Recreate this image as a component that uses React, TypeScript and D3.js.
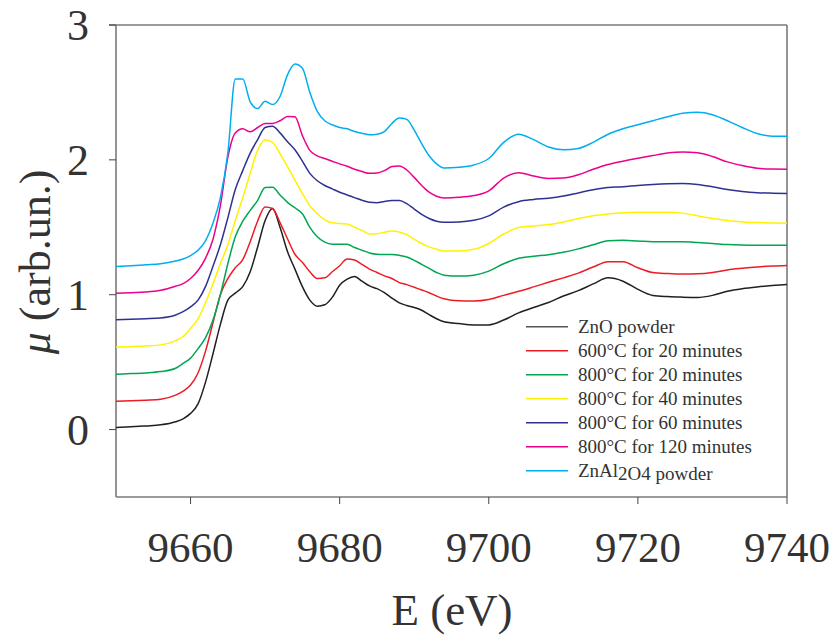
import React from "react";
import * as d3 from "d3";

const energy = [
  9650, 9652, 9654, 9656, 9658, 9659, 9660, 9661, 9662, 9663, 9664, 9665, 9666, 9667, 9668, 9669,
  9670, 9671, 9672, 9673, 9674, 9675, 9676, 9677, 9678, 9679, 9680, 9681, 9682, 9683, 9684, 9685,
  9686, 9687, 9688, 9689, 9690, 9691, 9692, 9693, 9694, 9696, 9698, 9700, 9702, 9704, 9706, 9708,
  9710, 9712, 9714, 9716, 9718, 9720, 9722, 9724, 9726, 9728, 9730, 9732, 9734, 9736, 9738, 9740,
];

const znoPowder = [
  0.015, 0.02, 0.027, 0.035, 0.058, 0.08, 0.12, 0.19, 0.35, 0.56, 0.78, 0.96, 1.012, 1.06, 1.17, 1.354,
  1.55, 1.64, 1.5, 1.32, 1.19, 1.06, 0.96, 0.915, 0.925, 0.98, 1.07, 1.115, 1.135, 1.1, 1.065, 1.045,
  1.015, 0.975, 0.94, 0.92, 0.905, 0.885, 0.852, 0.822, 0.8, 0.786, 0.776, 0.776, 0.812, 0.865, 0.905, 0.942,
  0.99, 1.03, 1.08, 1.125, 1.1, 1.04, 0.995, 0.986, 0.982, 0.98, 0.995, 1.026, 1.045, 1.058, 1.068, 1.076,
];

const c600m20 = [
  0.21, 0.213, 0.218, 0.225, 0.255, 0.285, 0.33, 0.42, 0.58, 0.79, 1.0, 1.12, 1.2, 1.26, 1.392, 1.547,
  1.65, 1.639, 1.535, 1.415, 1.3, 1.24, 1.17, 1.12, 1.125, 1.17, 1.215, 1.265, 1.258, 1.225, 1.19, 1.165,
  1.14, 1.12, 1.09, 1.075, 1.055, 1.035, 1.015, 0.99, 0.97, 0.955, 0.954, 0.965, 0.995, 1.025, 1.058, 1.092,
  1.125, 1.16, 1.205, 1.245, 1.245, 1.2, 1.165, 1.157, 1.153, 1.155, 1.165, 1.184, 1.196, 1.206, 1.213, 1.217,
];

const c800m20 = [
  0.41, 0.415, 0.42, 0.43, 0.455, 0.49, 0.53, 0.6, 0.68, 0.81, 1.0, 1.23, 1.43, 1.545, 1.625, 1.7,
  1.795, 1.797, 1.74, 1.685, 1.645, 1.6, 1.5, 1.43, 1.39, 1.375, 1.375, 1.375, 1.35, 1.33, 1.31, 1.3,
  1.298, 1.298, 1.292, 1.28, 1.255, 1.225, 1.195, 1.165, 1.145, 1.138, 1.145, 1.175, 1.23, 1.27, 1.285, 1.297,
  1.315, 1.34, 1.37, 1.4, 1.404, 1.398, 1.392, 1.392, 1.392, 1.387, 1.38, 1.372, 1.368, 1.367, 1.367, 1.367,
];

const c800m40 = [
  0.612, 0.615, 0.62, 0.628, 0.66, 0.69, 0.75, 0.82, 0.94, 1.08, 1.23, 1.37, 1.55, 1.72, 1.9, 2.072,
  2.15, 2.13, 2.045, 1.95, 1.85, 1.75, 1.66, 1.6, 1.555, 1.533, 1.528, 1.525, 1.5, 1.478, 1.45, 1.452,
  1.463, 1.472, 1.465, 1.445, 1.41, 1.38, 1.355, 1.337, 1.325, 1.325, 1.337, 1.38, 1.45, 1.498, 1.51, 1.52,
  1.54, 1.565, 1.585, 1.598, 1.607, 1.611, 1.612, 1.612, 1.605, 1.585, 1.565, 1.55, 1.54, 1.535, 1.532, 1.53,
];

const c800m60 = [
  0.815, 0.818, 0.822, 0.828, 0.85, 0.875, 0.91, 0.96, 1.06, 1.21, 1.37, 1.57, 1.78, 1.92, 2.05, 2.15,
  2.24, 2.25, 2.2, 2.135, 2.075, 1.99, 1.9, 1.845, 1.81, 1.785, 1.76, 1.74, 1.72, 1.7, 1.685, 1.682,
  1.692, 1.698, 1.698, 1.675, 1.635, 1.595, 1.565, 1.545, 1.538, 1.54, 1.552, 1.585, 1.65, 1.69, 1.706, 1.716,
  1.732, 1.755, 1.778, 1.795, 1.8, 1.81, 1.817, 1.822, 1.824, 1.817, 1.8, 1.78, 1.766, 1.757, 1.753, 1.751,
];

const c800m120 = [
  1.01, 1.015, 1.02, 1.033, 1.063, 1.082, 1.12, 1.18, 1.27, 1.41, 1.66, 2.02, 2.2, 2.23, 2.208, 2.24,
  2.27, 2.27, 2.29, 2.322, 2.32, 2.18, 2.07, 2.03, 2.01, 1.99, 1.97, 1.953, 1.93, 1.913, 1.9, 1.902,
  1.92, 1.95, 1.955, 1.925, 1.87, 1.81, 1.76, 1.73, 1.718, 1.722, 1.735, 1.77, 1.865, 1.905, 1.88, 1.862,
  1.865, 1.89, 1.93, 1.965, 1.99, 2.012, 2.032, 2.05, 2.058, 2.052, 2.025, 1.985, 1.958, 1.938, 1.932, 1.931,
];

const znal2o4Powder = [
  1.21, 1.215, 1.222, 1.23, 1.25, 1.265, 1.29, 1.33, 1.4, 1.53, 1.72, 2.05, 2.6, 2.6, 2.43, 2.38,
  2.435, 2.41, 2.47, 2.63, 2.71, 2.68, 2.5, 2.36, 2.29, 2.26, 2.24, 2.23, 2.21, 2.197, 2.186, 2.19,
  2.21, 2.27, 2.31, 2.3, 2.22, 2.12, 2.03, 1.97, 1.94, 1.945, 1.962, 2.01, 2.13, 2.19, 2.15, 2.095,
  2.075, 2.085, 2.13, 2.19, 2.23, 2.26, 2.29, 2.32, 2.345, 2.353, 2.335, 2.29, 2.24, 2.195, 2.175, 2.175,
];

const seriesNames = [
  "ZnO powder",
  "600°C for 20 minutes",
  "800°C for 20 minutes",
  "800°C for 40 minutes",
  "800°C for 60 minutes",
  "800°C for 120 minutes",
  "ZnAl2O4 powder",
];
const seriesValues = [znoPowder, c600m20, c800m20, c800m40, c800m60, c800m120, znal2o4Powder];
const seriesColors = ["#231f20", "#ed1c24", "#00a651", "#fff200", "#2e3192", "#ec008c", "#00aeef"];
const legendColors = ["#555555", "#ed1c24", "#00a651", "#fff200", "#2e3192", "#ec008c", "#00aeef"];

const xTicks = [9660, 9680, 9700, 9720, 9740];
const yTicks = [0, 1, 2, 3];

const W = 829;
const H = 635;
const left = 116;
const right = 787;
const top = 25;
const bottom = 497;
const FONT = "'Liberation Serif', 'Times New Roman', Times, serif";
const TXT = "#333333";
const FRAME = "#7a7a7a";

export default function App() {
  const x = d3.scaleLinear().domain([9650, 9740]).range([left, right]);
  const y = d3.scaleLinear().domain([-0.5, 3]).range([bottom, top]);
  const line = d3
    .line<[number, number]>()
    .x((d) => x(d[0]))
    .y((d) => y(d[1]))
    .curve(d3.curveMonotoneX);

  const legendX1 = 526;
  const legendX2 = 568;
  const legendTextX = 578;
  const legendY0 = 326.7;
  const legendStep = 24;

  return (
    <svg
      width={W}
      height={H}
      style={{ position: "fixed", left: 0, top: 0, background: "#fff" }}
      fontFamily={FONT}
    >
      <rect x={0} y={0} width={W} height={H} fill="#fff" />
      {/* frame */}
      <line x1={left - 7} x2={right} y1={top} y2={top} stroke={FRAME} strokeWidth={1.6} />
      <line x1={right} x2={right} y1={top} y2={bottom} stroke={FRAME} strokeWidth={1.6} />
      <line x1={left} x2={left} y1={top} y2={bottom} stroke={FRAME} strokeWidth={1.6} />
      <line x1={left} x2={right} y1={bottom} y2={bottom} stroke={FRAME} strokeWidth={1.6} />

      {/* y ticks */}
      {yTicks.map((t) => (
        <g key={"y" + t}>
          <line x1={left - 7} x2={left} y1={y(t)} y2={y(t)} stroke="#444" strokeWidth={1} />
          <text x={89} y={y(t) + 15} textAnchor="end" fontSize={44} fill={TXT} fontFamily={FONT}>
            {t}
          </text>
        </g>
      ))}

      {/* x ticks */}
      {xTicks.map((t) => (
        <g key={"x" + t}>
          <line x1={x(t)} x2={x(t)} y1={bottom} y2={bottom + 7} stroke="#444" strokeWidth={1} />
          <text x={x(t)} y={562} textAnchor="middle" fontSize={43} fill={TXT} fontFamily={FONT}>
            {t}
          </text>
        </g>
      ))}

      {/* axis titles */}
      <text x={452} y={625} textAnchor="middle" fontSize={45} fill={TXT} fontFamily={FONT}>
        E (eV)
      </text>
      <text
        transform={`translate(50, 262) rotate(-90)`}
        textAnchor="middle"
        fontSize={44}
        fill={TXT}
        fontFamily={FONT}
      >
        <tspan fontStyle="italic">μ</tspan> (arb.un.)
      </text>

      {/* curves */}
      {seriesValues.map((vals, i) => (
        <path
          key={seriesNames[i]}
          d={line(energy.map((e, k) => [e, vals[k]] as [number, number])) || ""}
          fill="none"
          stroke={seriesColors[i]}
          strokeWidth={1.5}
          strokeLinejoin="round"
        />
      ))}

      {/* legend */}
      {seriesNames.map((name, i) => {
        const ly = legendY0 + i * legendStep;
        return (
          <g key={"lg" + i}>
            <line x1={legendX1} x2={legendX2} y1={ly} y2={ly} stroke={legendColors[i]} strokeWidth={1.6} />
            {i === 6 ? (
              <text x={legendTextX} y={ly + 6.5} fontSize={19} fill={TXT} fontFamily={FONT}>
                ZnAl<tspan dy={3}>2O4 powder</tspan>
              </text>
            ) : (
              <text x={legendTextX} y={ly + 6.5} fontSize={19} fill={TXT} fontFamily={FONT}>
                {name}
              </text>
            )}
          </g>
        );
      })}
    </svg>
  );
}
